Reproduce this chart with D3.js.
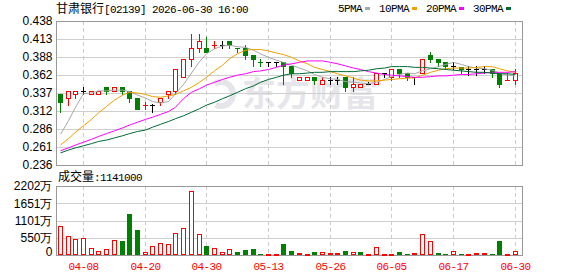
<!DOCTYPE html>
<html>
<head>
<meta charset="utf-8">
<style>
    body { margin: 0; background: #fff; }
    svg { display: block; }
    .mono { font-family: 'Liberation Mono', 'DejaVu Sans Mono', monospace; font-size: 11px; letter-spacing: -0.6px; }
    .cjk { font-family: 'Noto Sans CJK SC', sans-serif; font-size: 12px; }
    .num { font-family: 'Liberation Sans', Arial, sans-serif; font-size: 12px; }
</style>
</head>
<body>
<svg width="578" height="276"></svg>

<script src="https://d3js.org/d3.v7.min.js"></script>
<script>
// trading days
const dates = ['03-31','04-01','04-02','04-08','04-09','04-10','04-13','04-14','04-15','04-16',
    '04-17','04-20','04-21','04-22','04-23','04-24','04-27','04-28','04-29','04-30',
    '05-04','05-05','05-06','05-07','05-08','05-11','05-12','05-13','05-14','05-15',
    '05-18','05-19','05-20','05-21','05-22','05-26','05-27','05-28','05-29','06-01',
    '06-02','06-03','06-04','06-05','06-08','06-09','06-10','06-11','06-12','06-15',
    '06-16','06-17','06-18','06-22','06-23','06-24','06-25','06-26','06-29','06-30']
const xLabels = ['04-08','04-20','04-30','05-13','05-26','06-05','06-17','06-30']

const open  = [.335,.330,.335,.340,.335,.335,.345,.340,.345,.340, .330,.320,.320,.325,.335,.340,.360,.385,.400,.400,
               .405,.405,.410,.400,.400,.390,.380,.380,.380,.380, .375,.355,.355,.360,.350,.355,.355,.360,.345,.345,
               .350,.350,.365,.360,.370,.365,.360,.365,.390,.385, .380,.375,.373,.370,.370,.370,.370,.365,.355,.355]
const high  = [.335,.340,.340,.345,.340,.340,.345,.345,.345,.340, .330,.325,.322,.330,.340,.370,.385,.420,.420,.415,
               .410,.410,.410,.400,.405,.390,.385,.380,.380,.380, .375,.360,.360,.360,.360,.360,.360,.360,.360,.350,
               .352,.365,.365,.370,.370,.365,.360,.385,.395,.385, .380,.380,.373,.375,.375,.375,.370,.365,.365,.370]
const low   = [.310,.320,.330,.335,.335,.335,.335,.340,.335,.325, .315,.315,.310,.320,.330,.335,.360,.375,.395,.395,
               .400,.400,.400,.395,.385,.375,.375,.375,.375,.350, .360,.355,.355,.350,.350,.350,.350,.340,.340,.345,
               .350,.350,.360,.355,.360,.355,.350,.365,.380,.375, .370,.370,.365,.362,.362,.365,.360,.345,.355,.350]
const close = [.325,.340,.340,.340,.340,.340,.340,.345,.340,.330, .315,.320,.320,.330,.340,.370,.385,.400,.410,.395,
               .405,.405,.405,.400,.390,.385,.380,.380,.380,.375, .365,.360,.360,.355,.355,.355,.355,.345,.350,.350,
               .350,.365,.365,.370,.365,.360,.360,.385,.385,.380, .375,.375,.370,.370,.370,.370,.365,.350,.355,.365]

// moving averages
const ma5  = [.279,.298,.317,.336,.337,.340,.340,.341,.341,.339, .334,.330,.325,.323,.325,.336,.349,.365,.381,.392,
              .399,.403,.404,.402,.401,.397,.392,.387,.383,.380, .376,.372,.368,.363,.359,.357,.356,.353,.352,.351,
              .350,.352,.356,.360,.363,.365,.364,.368,.371,.374, .377,.380,.377,.374,.372,.371,.369,.365,.362,.361]
const ma10 = [.264,.273,.282,.291,.300,.309,.318,.327,.334,.338, .337,.335,.332,.331,.333,.335,.340,.345,.352,.359,
              .368,.376,.385,.392,.397,.398,.398,.396,.393,.391, .387,.382,.378,.373,.370,.367,.364,.361,.358,.355,
              .354,.354,.355,.356,.357,.358,.358,.362,.366,.369, .371,.372,.372,.372,.373,.374,.374,.371,.368,.366]
const ma20 = [.256,.260,.264,.268,.272,.276,.280,.284,.288,.292, .296,.300,.303,.307,.311,.317,.329,.338,.343,.348,
              .352,.356,.359,.362,.364,.367,.368,.370,.373,.376, .378,.380,.382,.382,.382,.380,.378,.375,.372,.370,
              .367,.365,.363,.362,.361,.360,.359,.359,.360,.361, .361,.362,.363,.363,.364,.365,.366,.366,.366,.367]
const ma30 = [.253,.257,.260,.263,.266,.269,.271,.274,.277,.280, .283,.285,.289,.293,.297,.301,.305,.310,.315,.320,
              .324,.329,.333,.338,.343,.347,.352,.356,.359,.362, .364,.364,.365,.366,.366,.367,.367,.367,.367,.368,
              .369,.371,.372,.374,.374,.374,.373,.373,.372,.371, .370,.369,.368,.367,.366,.366,.365,.364,.364,.363]

// volume in 万 shares, and bar colour (r = red, g = green)
const vol = [925,606,500,532,213,128,181,479,457,1308, 798,96,277,383,351,702,862,2042,670,287,
             214,96,182,105,160,201,41,41,41,360, 137,64,32,96,96,64,64,138,96,96,
             32,255,32,32,96,32,64,670,447,64, 32,128,32,32,64,64,32,447,32,114]
const volDir = 'rrrrrrrrggg' + 'rrrrrrrr' + 'g' + 'rrr' + 'gggg' + 'rr' + 'gg' + 'rr' + 'g' + 'rrr' + 'g' + 'r' + 'g' +
               'rrrr' + 'gg' + 'rrr' + 'gg' + 'r' + 'g' + 'rrr' + 'gg' + 'rr'

const priceTicks = [0.236, 0.26125, 0.2865, 0.31175, 0.337, 0.36225, 0.3875, 0.41275, 0.438]
const priceLabels = ['0.236','0.261','0.286','0.312','0.337','0.362','0.388','0.413','0.438']
const volTicks = [0, 550.5, 1101, 1651.5, 2202]
const volLabels = ['0','550万','1101万','1651万','2202万']

const maNames = ['5PMA','10PMA','20PMA','30PMA']
const maColors = ['#a8a8a8','#f0a000','#ff00ff','#006a35']
const maData = [ma5, ma10, ma20, ma30]

const RED = '#ff0000', GREEN = '#008000'

let svg = d3.select('svg')

let pLeft = 56, pRight = 522, pTop = 21, pBottom = 165
let vTop = 186, vBottom = 255

let x = d3.scaleBand().domain(dates).range([pLeft, 518.5])
let cx = d => Math.round(x(d) + x.bandwidth() / 2)
let y = d3.scaleLinear().domain([0.236, 0.438]).range([pBottom, pTop])
let yv = d3.scaleLinear().domain([0, 2202]).range([vBottom, vTop])
let py = v => Math.round(y(v))

let days = dates.map((d, i) => ({
    date: d, o: open[i], h: high[i], l: low[i], c: close[i],
    prev: i ? close[i - 1] : open[i], v: vol[i], vd: volDir[i]
}))

function kind(d) {
    if (d.c > d.o) return 'up'
    if (d.c < d.o) return 'down'
    return d.c > d.prev ? 'up' : (d.c < d.prev ? 'down' : 'flat')
}
let kColor = { up: RED, down: GREEN, flat: '#000' }

// title
let title = svg.append('text').attr('x', 56).attr('y', 13)
title.append('tspan').attr('class', 'cjk').text('甘肃银行')
title.append('tspan').attr('class', 'mono').text('[02139] 2026-06-30 16:00')

// legend
let lx = 338
maNames.forEach((name, i) => {
    svg.append('text').attr('class', 'mono').attr('x', lx).attr('y', 12).text(name)
    let w = name.length * 6
    svg.append('rect').attr('x', lx + w + 3).attr('y', 7).attr('width', 5).attr('height', 3)
        .attr('fill', maColors[i])
    lx += w + 17
})

// watermark
let wm = svg.append('g').attr('fill', '#e6e6ea')
wm.append('path')
    .attr('transform', 'translate(221,94)')
    .attr('d', d3.arc()({ innerRadius: 9, outerRadius: 15, startAngle: -0.6, endAngle: 3.6 }))
wm.append('text')
    .attr('x', 242).attr('y', 106)
    .style('font-family', "'Noto Sans CJK SC', sans-serif")
    .style('font-size', '34px').style('font-weight', 'bold')
    .text('东方财富')

// grids
function grid(g, yTop, yBot, ticks, scale) {
    g.selectAll('.hg').data(ticks.slice(1, -1)).join('line')
        .attr('x1', pLeft).attr('x2', pRight)
        .attr('y1', d => Math.round(scale(d)) + 0.5).attr('y2', d => Math.round(scale(d)) + 0.5)
        .attr('stroke', '#cfcfcf')
    g.selectAll('.vg').data(xLabels).join('line')
        .attr('x1', d => cx(d) + 0.5).attr('x2', d => cx(d) + 0.5)
        .attr('y1', yTop).attr('y2', yBot)
        .attr('stroke', '#cccccc').attr('stroke-dasharray', '4,3')
    g.append('rect').attr('x', pLeft + 0.5).attr('y', yTop + 0.5)
        .attr('width', pRight - pLeft).attr('height', yBot - yTop)
        .attr('fill', 'none').attr('stroke', '#999')
}
let g1 = svg.append('g').attr('shape-rendering', 'crispEdges')
grid(g1, pTop, pBottom, priceTicks, y)
let g2 = svg.append('g').attr('shape-rendering', 'crispEdges')
grid(g2, vTop, vBottom, volTicks, yv)

// y labels
svg.append('g').attr('class', 'num').selectAll('text').data(priceTicks).join('text')
    .attr('x', 52.5).attr('y', d => y(d)).attr('dy', '0.36em').attr('text-anchor', 'end')
    .text((d, i) => priceLabels[i])
svg.append('g').attr('class', 'num').selectAll('text').data(volTicks).join('text')
    .attr('x', 52.5).attr('y', d => yv(d)).attr('dy', d => d === 0 ? '0.1em' : '0.36em').attr('text-anchor', 'end')
    .text((d, i) => volLabels[i])

// x labels
svg.append('g').attr('class', 'mono').selectAll('text').data(xLabels).join('text')
    .attr('x', d => cx(d) + 0.5).attr('y', 270).attr('text-anchor', 'middle')
    .attr('fill', RED).text(d => d)

// volume caption
let cap = svg.append('text').attr('x', 58).attr('y', 181)
cap.append('tspan').attr('class', 'cjk').text('成交量')
cap.append('tspan').attr('class', 'mono').text(':1141000')

// candles
let cg = svg.append('g').attr('shape-rendering', 'crispEdges')
days.forEach(d => {
    let k = kind(d), c = kColor[k], xc = cx(d.date)
    cg.append('line').attr('x1', xc + 0.5).attr('x2', xc + 0.5)
        .attr('y1', py(d.h)).attr('y2', py(d.l) + 1).attr('stroke', c)
    let t = py(Math.max(d.o, d.c)), b = py(Math.min(d.o, d.c))
    if (d.c === d.o) {
        cg.append('line').attr('x1', xc - 2).attr('x2', xc + 3)
            .attr('y1', t + 0.5).attr('y2', t + 0.5).attr('stroke', c)
    } else if (k === 'up') {
        cg.append('rect').attr('x', xc - 1.5).attr('y', t + 0.5)
            .attr('width', 4).attr('height', Math.max(1, b - t))
            .attr('fill', '#fff').attr('stroke', c)
    } else {
        cg.append('rect').attr('x', xc - 2).attr('y', t)
            .attr('width', 5).attr('height', Math.max(1, b - t + 1))
            .attr('fill', c)
    }
})

// moving averages
maData.forEach((arr, i) => {
    svg.append('path')
        .datum(arr)
        .attr('d', d3.line().x((v, j) => cx(dates[j]) + 0.5).y(v => y(v)))
        .attr('fill', 'none').attr('stroke', maColors[i]).attr('stroke-width', 1)
})

// volume bars
let vg = svg.append('g').attr('shape-rendering', 'crispEdges')
days.forEach(d => {
    let xc = cx(d.date), t = Math.round(yv(d.v))
    if (d.vd === 'r') {
        vg.append('rect').attr('x', xc - 1.5).attr('y', t + 0.5)
            .attr('width', 4).attr('height', Math.max(1, vBottom - 1 - t))
            .attr('fill', '#fff').attr('stroke', RED)
    } else {
        vg.append('rect').attr('x', xc - 2).attr('y', t)
            .attr('width', 5).attr('height', vBottom - t)
            .attr('fill', GREEN)
    }
})
</script>
</body>
</html>
